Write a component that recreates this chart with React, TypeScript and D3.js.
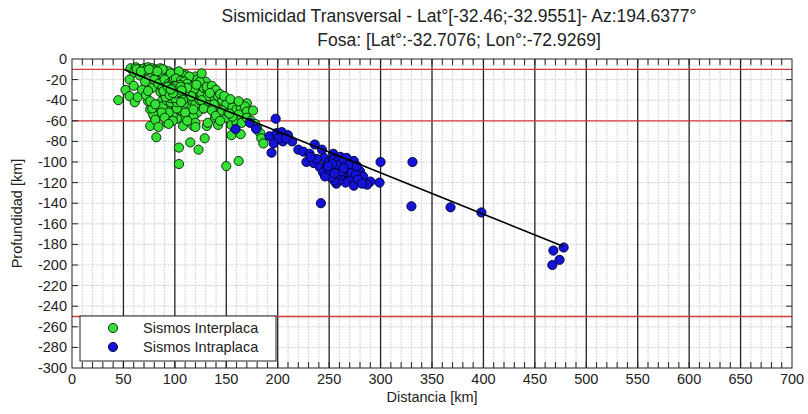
import React from "react";
import * as d3 from "d3";

const titleLines = [
  "Sismicidad Transversal - Lat°[-32.46;-32.9551]- Az:194.6377°",
  "Fosa: [Lat°:-32.7076; Lon°:-72.9269]",
];
const xLabel = "Distancia [km]";
const yLabel = "Profundidad [km]";
const legendLabels = ["Sismos Interplaca", "Sismos Intraplaca"];

const xTickLabels = d3.range(0, 701, 50);
const yTickLabels = d3.range(-300, 1, 20);
const redDepths = [-10, -60, -250];
const slabLine: [number, number][] = [
  [50, -10],
  [478, -182],
];

// Sismos Interplaca: [distance km, depth km]
const interplaca: [number, number][] = [
  [57, -9], [62, -8], [66, -10], [70, -9], [74, -8], [78, -9], [82, -10], [86, -9], [90, -11], [94, -12],
  [60, -13], [68, -14], [76, -13], [84, -15], [92, -16], [86, -13], [100, -14], [110, -15], [120, -17],
  [45, -40], [52, -30], [56, -20], [56, -36], [61, -42], [64, -37], [66, -16], [71, -22], [60, -26], [68, -30],
  [74, -41], [76, -49], [80, -56], [76, -65], [82, -76], [72, -35], [78, -28], [80, -20], [84, -24],
  [86, -32], [88, -40], [84, -46], [90, -50], [86, -54], [94, -58], [92, -62], [81, -44], [74, -31],
  [95, -18], [98, -22], [100, -26], [102, -30], [104, -27], [106, -32], [108, -24], [110, -28], [96, -30],
  [92, -26], [90, -34], [94, -36], [98, -38], [100, -34], [103, -36], [106, -40], [110, -36], [112, -32],
  [114, -26], [116, -30], [118, -22], [112, -20], [108, -16], [104, -20], [96, -14], [104, -12],
  [114, -17], [122, -20], [124, -26], [120, -32], [118, -38], [114, -42], [110, -46], [104, -44],
  [98, -46], [94, -44], [100, -52], [106, -50], [112, -54], [116, -48], [120, -44], [124, -40], [126, -34],
  [128, -28], [130, -22], [132, -30], [134, -36], [130, -42], [128, -48], [122, -52], [118, -56], [108, -58],
  [102, -58], [98, -55], [88, -46], [92, -40], [96, -42], [102, -40], [106, -36], [101, -29], [99, -31],
  [103, -33], [105, -28], [97, -27], [107, -29], [100, -24], [102, -22], [88, -28], [90, -20], [94, -24],
  [124, -22], [131, -27], [137, -31], [132, -36], [126, -40], [128, -48], [118, -49], [110, -52], [102, -48],
  [94, -52], [87, -52], [79, -54], [78, -48], [76, -41], [81, -44], [81, -59], [90, -57], [98, -60],
  [108, -65], [118, -65], [131, -65], [139, -57], [142, -64], [150, -57], [155, -64], [160, -62],
  [139, -51], [149, -48], [152, -44], [147, -43], [158, -43], [165, -44], [170, -43], [144, -38], [139, -40],
  [136, -26], [140, -30], [142, -36], [138, -44], [136, -50], [140, -55], [146, -40], [150, -44], [146, -50],
  [152, -52], [156, -47], [160, -49], [164, -48], [168, -46], [170, -51], [162, -54], [156, -56], [144, -60],
  [132, -62], [120, -62], [94, -63], [134, -33], [144, -34], [126, -14], [148, -36], [154, -39], [162, -41],
  [104, -86], [104, -102], [115, -81], [123, -88], [129, -77], [150, -104], [162, -99], [155, -74],
  [164, -73], [176, -50], [180, -67], [183, -72], [184, -77], [186, -82], [165, -62], [170, -57],
  [174, -60], [178, -63], [153, -53], [120, -66], [112, -60], [84, -66],
  [98, -29], [100, -28], [101, -32], [102, -27], [103, -30], [104, -31], [99, -33], [97, -30], [105, -34],
  [106, -26], [107, -31], [108, -33], [96, -32], [95, -28], [101, -25], [103, -24], [105, -23], [109, -30],
  [110, -25], [111, -34], [100, -36], [98, -35], [104, -38], [107, -37], [93, -30], [94, -33], [92, -34],
  [97, -24], [99, -20], [101, -19], [106, -21], [109, -22], [112, -24], [113, -29], [111, -38], [108, -40],
  [102, -42], [96, -38], [91, -37], [89, -31], [115, -35], [117, -27], [119, -29], [121, -25], [116, -36],
  [63, -10], [72, -11], [80, -11], [88, -10], [67, -12], [75, -10], [83, -12],
  [100, -30], [101, -31], [102, -29], [103, -28], [99, -28], [100, -32], [104, -29], [102, -33], [98, -31],
  [105, -30], [101, -27], [103, -26], [97, -33], [106, -29], [104, -33], [99, -26], [102, -35], [96, -27],
  [108, -28], [107, -34], [105, -25], [100, -38], [95, -35], [110, -31], [93, -27], [106, -42], [112, -28],
  [99.5, -29.5], [100.5, -30.5], [101.5, -28.5], [102.5, -31.5], [98.5, -30], [103.5, -29.5], [101, -33.5],
  [100, -26.5], [97.5, -28.5], [104.5, -32], [105.5, -27], [98, -33], [106.5, -30.5], [96, -29.5],
];

// Sismos Intraplaca: [distance km, depth km]
const intraplaca: [number, number][] = [
  [159, -68], [173, -62], [179, -68], [198, -58], [192, -75], [199, -72], [204, -71], [210, -74],
  [205, -80], [214, -80], [194, -91], [201, -77], [208, -77], [196, -82],
  [220, -88], [225, -90], [231, -92], [236, -83], [243, -88], [254, -92], [261, -95], [267, -96],
  [274, -99], [228, -100], [235, -101], [241, -105], [248, -103], [253, -109], [256, -114], [257, -121],
  [264, -114], [270, -118], [274, -123], [280, -109], [283, -114], [290, -119], [287, -122], [299, -120],
  [300, -100], [331, -100], [242, -140], [330, -143], [368, -144], [398, -149],
  [245, -96], [250, -100], [252, -104], [256, -101], [258, -106], [260, -108], [262, -104], [265, -110],
  [248, -107], [244, -110], [250, -112], [254, -98], [259, -99], [263, -100], [268, -106], [272, -110],
  [276, -112], [278, -117], [266, -120], [260, -117], [255, -118], [252, -115], [246, -114], [238, -97],
  [232, -95], [270, -102], [277, -104], [282, -121], [261, -113], [257, -110],
  [254, -106], [256, -108], [258, -103], [251, -108], [253, -102], [259, -111], [262, -109], [249, -104],
  [255, -111], [264, -106],
  [478, -183], [468, -186], [474, -195], [467, -200],
];

const W = 808;
const H = 414;
const L = 72, R = 792, T = 59, B = 368;
const font = "'Liberation Sans', Arial, sans-serif";

export default function App() {
  const x = d3.scaleLinear().domain([0, 700]).range([L, R]);
  const y = d3.scaleLinear().domain([-300, 0]).range([B, T]);
  const minorX = d3.range(10, 700, 10).filter((v) => v % 50 !== 0);
  const majorX = d3.range(50, 700, 50);
  const gridY = d3.range(-280, 0, 20);
  const tickX = d3.range(10, 700, 10);
  const tickY = d3.range(-280, 0, 20);
  const line = d3.line<[number, number]>().x((d) => x(d[0])).y((d) => y(d[1]));
  const r = 4.6;
  const gFill = "#33e033";
  const gStroke = "#062006";
  const bFill = "#1414d8";
  const bStroke = "#000030";

  return (
    <svg width={W} height={H} style={{ position: "absolute", left: 0, top: 0, background: "#fff" }} fontFamily={font}>
      <rect x={0} y={0} width={W} height={H} fill="#fff" />
      {minorX.map((v) => (
        <line key={"mx" + v} x1={x(v)} x2={x(v)} y1={T} y2={B} stroke="#d4d4d4" strokeWidth={1} strokeDasharray="2,1" />
      ))}
      {gridY.map((v) => (
        <line key={"gy" + v} x1={L} x2={R} y1={y(v)} y2={y(v)} stroke="#d4d4d4" strokeWidth={1} strokeDasharray="2,1" />
      ))}
      {majorX.map((v) => (
        <line key={"MX" + v} x1={x(v)} x2={x(v)} y1={T} y2={B} stroke="#222" strokeWidth={1.3} />
      ))}
      {redDepths.map((v) => (
        <line key={"rd" + v} x1={L} x2={R} y1={y(v)} y2={y(v)} stroke="#d43a3a" strokeWidth={1.3} />
      ))}
      <g>
        {interplaca.map((d, i) => (
          <circle key={"g" + i} cx={x(d[0])} cy={y(d[1])} r={r} fill={gFill} stroke={gStroke} strokeOpacity={0.9} strokeWidth={1} />
        ))}
      </g>
      <g>
        {intraplaca.map((d, i) => (
          <circle key={"b" + i} cx={x(d[0])} cy={y(d[1])} r={r} fill={bFill} stroke={bStroke} strokeOpacity={0.9} strokeWidth={1} />
        ))}
      </g>
      <path d={line(slabLine) || ""} stroke="#000" strokeWidth={1.6} fill="none" />
      <rect x={L} y={T} width={R - L} height={B - T} fill="none" stroke="#222" strokeWidth={1} />
      {tickX.map((v) => (
        <g key={"tx" + v}>
          <line x1={x(v)} x2={x(v)} y1={B} y2={B - 6} stroke="#222" />
          <line x1={x(v)} x2={x(v)} y1={T} y2={T + 6} stroke="#222" />
        </g>
      ))}
      {tickY.map((v) => (
        <g key={"ty" + v}>
          <line x1={L} x2={L + 6} y1={y(v)} y2={y(v)} stroke="#222" />
          <line x1={R} x2={R - 6} y1={y(v)} y2={y(v)} stroke="#222" />
        </g>
      ))}
      {xTickLabels.map((v) => (
        <text key={"xl" + v} x={x(v)} y={B + 16} fontSize={14.5} textAnchor="middle" fill="#222">
          {v}
        </text>
      ))}
      {yTickLabels.map((v) => (
        <text key={"yl" + v} x={L - 5} y={y(v) + 5} fontSize={14.5} textAnchor="end" fill="#222">
          {v}
        </text>
      ))}
      <text x={(L + R) / 2} y={B + 34} fontSize={14.5} textAnchor="middle" fill="#222">
        {xLabel}
      </text>
      <text transform={`translate(22,${(T + B) / 2}) rotate(-90)`} fontSize={14.5} textAnchor="middle" fill="#222">
        {yLabel}
      </text>
      <text x={459} y={22} fontSize={17.5} textAnchor="middle" fill="#222">
        {titleLines[0]}
      </text>
      <text x={459} y={46} fontSize={17.5} textAnchor="middle" fill="#222">
        {titleLines[1]}
      </text>
      <rect x={80} y={316} width={196} height={45} fill="#fff" stroke="#222" strokeWidth={1} />
      <circle cx={113} cy={328} r={r} fill={gFill} stroke={gStroke} strokeOpacity={0.9} strokeWidth={1} />
      <circle cx={113} cy={347} r={r} fill={bFill} stroke={bStroke} strokeOpacity={0.9} strokeWidth={1} />
      <text x={143} y={333} fontSize={14.5} fill="#222">{legendLabels[0]}</text>
      <text x={143} y={352} fontSize={14.5} fill="#222">{legendLabels[1]}</text>
    </svg>
  );
}
